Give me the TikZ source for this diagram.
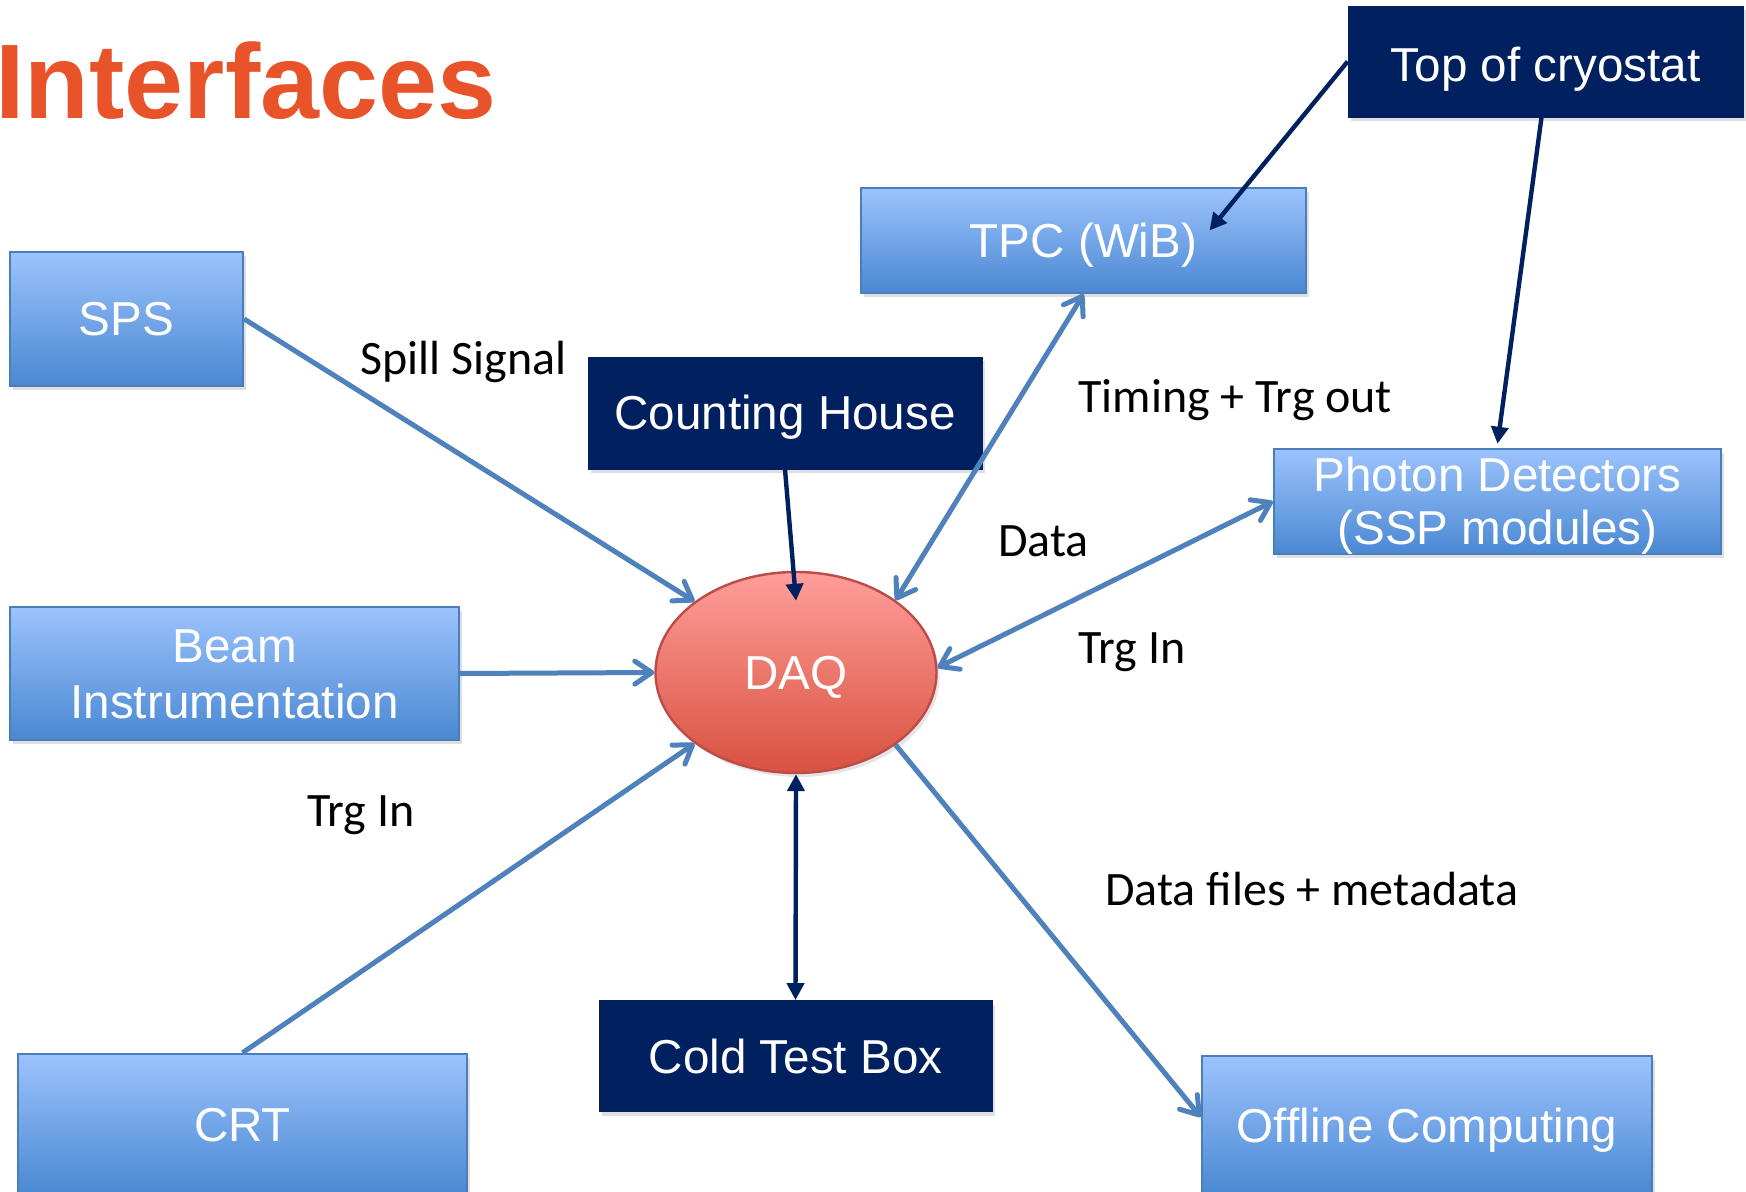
\documentclass[tikz,border=0pt]{standalone}
\usepackage{fontspec}
\setmainfont{Liberation Sans}
\newfontfamily\labfont{Carlito}
\usetikzlibrary{arrows.meta,shapes.geometric,shadows}
\definecolor{navy}{HTML}{002060}
\definecolor{boxtop}{HTML}{9CC3FD}
\definecolor{boxmid}{HTML}{89B3F1}
\definecolor{boxbot}{HTML}{4A88D2}
\definecolor{boxline}{HTML}{4A7EBB}
\definecolor{arrowblue}{HTML}{4F81BD}
\definecolor{daqtop}{HTML}{FF9E9A}
\definecolor{daqmid}{HTML}{F4857D}
\definecolor{daqbot}{HTML}{D8513F}
\definecolor{daqline}{HTML}{BE4B48}
\definecolor{titleorange}{HTML}{E9532A}
\tikzset{
  boxtext/.style={text=white, font=\fontsize{23.8}{28}\selectfont, inner sep=0pt, text height=17pt, text depth=0pt},
  lbox/.style={boxtext, draw=boxline, line width=1.2pt, top color=boxtop, middle color=boxmid, bottom color=boxbot,
    drop shadow={opacity=0.25, shadow xshift=1.5pt, shadow yshift=-2pt}},
  dbox/.style={boxtext, fill=navy, draw=navy,
    drop shadow={opacity=0.25, shadow xshift=1.5pt, shadow yshift=-2pt}},
  daqnode/.style={boxtext, ellipse, draw=daqline, line width=1.2pt, top color=daqtop, middle color=daqmid, bottom color=daqbot,
    drop shadow={opacity=0.2, shadow xshift=1.5pt, shadow yshift=-2pt}},
  blink/.style={draw=arrowblue, line width=2.5pt},
  bhead/.style={-{Straight Barb[length=8.5pt,width=11.5pt,round]}},
  bboth/.style={{Straight Barb[length=8.5pt,width=11.5pt,round]}-{Straight Barb[length=8.5pt,width=11.5pt,round]}},
  nlink/.style={draw=navy, line width=2.2pt},
  nhead/.style={-{Triangle[length=8.5pt,width=8.5pt]}},
  nboth/.style={{Triangle[length=8.5pt,width=8.5pt]}-{Triangle[length=8.5pt,width=8.5pt]}},
  lab/.style={font=\labfont\fontsize{24}{28}\selectfont, text=black, inner sep=0pt, anchor=west}
}
\begin{document}
\begin{tikzpicture}[x=0.5pt,y=-0.5pt]
\useasboundingbox (0,0) rectangle (1746,1192);
\clip (0,0) rectangle (1746,1192);
\fill[white] (0,0) rectangle (1746,1192);

% title
\node[anchor=base west, inner sep=0pt, text=titleorange, font=\fontsize{53}{60}\selectfont\bfseries] (title) at (-5,119) {Interfaces};

% boxes
\node[dbox, minimum width=197.5pt, minimum height=55.5pt] (toc) at (1545.5,61.5) {\raisebox{-1.5pt}{Top of cryostat}};
\node[lbox, minimum width=222.5pt, minimum height=52.5pt] (tpc) at (1083.5,240.5) {TPC (WiB)};
\node[lbox, minimum width=116.5pt, minimum height=67pt] (sps) at (126.5,319) {SPS};
\node[dbox, minimum width=197pt, minimum height=56pt] (ch) at (785,413) {Counting House};
\node[lbox, minimum width=223.5pt, minimum height=52.5pt, text depth=26.5pt] (pd) at (1497.5,501.5)
  {\def\arraystretch{1}\fontsize{23.8}{26.5}\selectfont\begin{tabular}[t]{@{}c@{}}Photon Detectors\\(SSP modules)\end{tabular}};
\node[lbox, minimum width=224.5pt, minimum height=66.5pt, text depth=28pt] (bi) at (234.5,673.5)
  {\def\arraystretch{1}\begin{tabular}[t]{@{}c@{}}Beam\\Instrumentation\end{tabular}};
\node[daqnode, minimum width=140.5pt, minimum height=100.5pt] (daq) at (796,672.5) {DAQ};
\node[lbox, minimum width=224.5pt, minimum height=70pt] (crt) at (242.5,1124) {CRT};
\node[dbox, minimum width=196.5pt, minimum height=55.5pt] (ctb) at (795.5,1056) {Cold Test Box};
\node[lbox, minimum width=225pt, minimum height=69pt] (off) at (1427,1125) {Offline Computing};

% connectors
\draw[blink, bhead] (sps.east) -- (daq.145);
\draw[blink, bhead] (bi.east) -- (daq.west);
\draw[blink, bhead] (crt.north) -- (daq.215);
\draw[blink, bboth] (daq.36) -- (tpc.south);
\draw[blink, bboth] (daq.2) -- (pd.west);
\draw[blink, bhead] (daq.324) -- ([yshift=4pt]off.west);
\draw[nlink, nhead] (ch.south) -- ([yshift=-15pt]daq.north);
\draw[nlink, nboth] (daq.south) -- (ctb.north);
\draw[nlink, nhead] (toc.west) -- ([xshift=63pt,yshift=5pt]tpc.center);
\draw[nlink, nhead] ([xshift=-2pt]toc.south) -- ([yshift=2pt]pd.north);

% labels
\node[lab] (l1) at (360,361.5) {Spill Signal};
\node[lab] (l2) at (1078,400.5) {Timing + Trg out};
\node[lab] (l3) at (998,541) {Data};
\node[lab] (l4) at (1078,652) {Trg In};
\node[lab] (l5) at (307,815.5) {Trg In};
\node[lab] (l6) at (1105,889) {Data files + metadata};
\end{tikzpicture}
\end{document}
